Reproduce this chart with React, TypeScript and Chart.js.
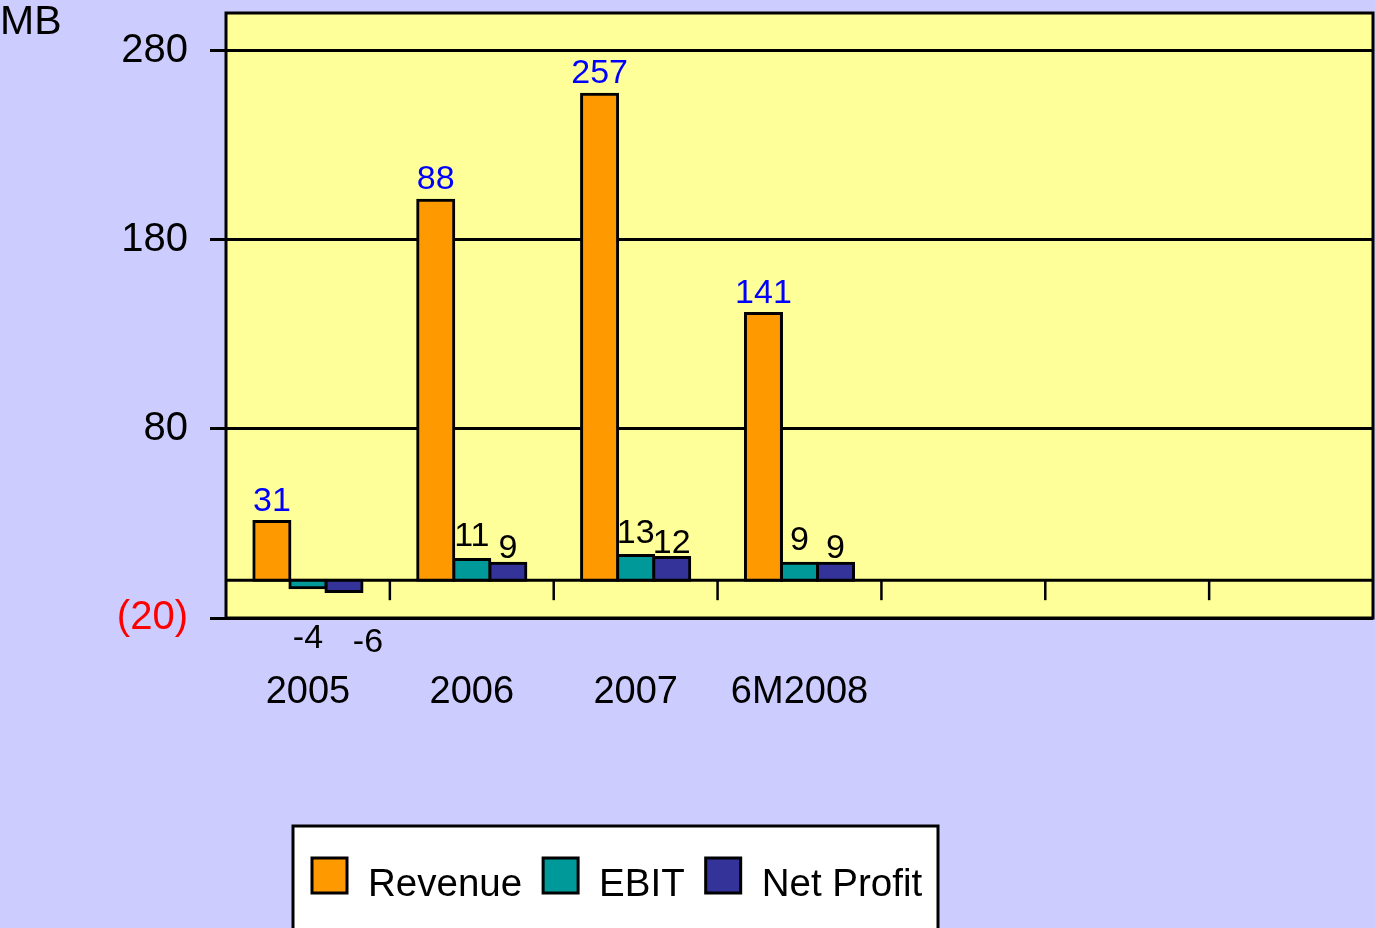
import React, { useEffect, useRef } from 'react';
import { Chart, registerables } from 'chart.js';

Chart.register(...registerables);

const CATEGORIES = ['2005', '2006', '2007', '6M2008', '', '', ''];
const REVENUE = [31, 201, 257, 141];
const EBIT = [-4, 11, 13, 9];
const NET_PROFIT = [-6, 9, 12, 9];
const REVENUE_LABELS = ['31', '88', '257', '141'];
const EBIT_LABELS = EBIT.map(String);
const NET_PROFIT_LABELS = NET_PROFIT.map(String);
const Y_TICKS = [-20, 80, 180, 280];
const Y_MIN = -20;
const Y_MAX = 300;
const UNIT = 'MB';

const FONT = '"Liberation Sans", Arial, Helvetica, sans-serif';
const BG = '#CCCCFF';
const PLOT_BG = '#FFFF99';
const COLORS = ['#FF9900', '#009999', '#333399'];
const LABEL_COLORS = ['#0000FF', '#000000', '#000000'];
const LABEL_OFFSETS = [11, 13, 5];
const NEG_LABEL_DX = [0, 0, 24];

const chartPlugin = {
  id: 'customDecor',
  beforeDraw(chart: any) {
    const { ctx, chartArea: a, width, height } = chart;
    ctx.save();
    ctx.fillStyle = BG;
    ctx.fillRect(0, 0, width, height);
    ctx.fillStyle = PLOT_BG;
    ctx.fillRect(a.left, a.top, a.right - a.left, a.bottom - a.top);
    ctx.restore();
  },
  beforeDatasetsDraw(chart: any) {
    const { ctx, chartArea: a } = chart;
    const ys = chart.scales.y;
    const xs = chart.scales.x;
    const y0 = ys.getPixelForValue(0);
    ctx.save();
    ctx.strokeStyle = '#000';
    ctx.lineWidth = 3;
    ctx.beginPath();
    ctx.moveTo(a.left, y0);
    ctx.lineTo(a.right, y0);
    ctx.stroke();
    ctx.lineWidth = 2.5;
    const n = CATEGORIES.length;
    for (let i = 1; i < n; i++) {
      const px = (xs.getPixelForValue(i - 1) + xs.getPixelForValue(i)) / 2;
      ctx.beginPath();
      ctx.moveTo(px, y0);
      ctx.lineTo(px, y0 + 20);
      ctx.stroke();
    }
    ctx.restore();
  },
  afterDraw(chart: any) {
    const { ctx, chartArea: a } = chart;
    ctx.save();
    // frame
    ctx.strokeStyle = '#000';
    ctx.lineWidth = 3;
    ctx.strokeRect(a.left, a.top, a.right - a.left, a.bottom - a.top);

    // unit
    ctx.fillStyle = '#000';
    ctx.font = `41px ${FONT}`;
    ctx.textAlign = 'left';
    ctx.textBaseline = 'alphabetic';
    ctx.fillText(UNIT, 0, 34);

    // data labels
    const labelSets = [REVENUE_LABELS, EBIT_LABELS, NET_PROFIT_LABELS];
    ctx.font = `34px ${FONT}`;
    ctx.textAlign = 'center';
    chart.data.datasets.forEach((ds: any, i: number) => {
      const meta = chart.getDatasetMeta(i);
      meta.data.forEach((bar: any, j: number) => {
        const v = ds.data[j];
        if (v === null || v === undefined) return;
        const text = labelSets[i][j];
        ctx.fillStyle = LABEL_COLORS[i];
        if (v >= 0) {
          ctx.fillText(text, bar.x, bar.y - LABEL_OFFSETS[i]);
        } else {
          ctx.fillText(text, bar.x + NEG_LABEL_DX[i], bar.y + 60);
        }
      });
    });

    // legend
    const lx = 293, ly = 826, lw = 645, lh = 106;
    ctx.fillStyle = '#FFFFFF';
    ctx.fillRect(lx, ly, lw, lh);
    ctx.strokeStyle = '#000';
    ctx.lineWidth = 3;
    ctx.strokeRect(lx, ly, lw, lh);
    ctx.font = `38.5px ${FONT}`;
    ctx.textAlign = 'left';
    let x = 312;
    chart.data.datasets.forEach((ds: any) => {
      ctx.fillStyle = ds.backgroundColor;
      ctx.fillRect(x, 858, 35, 35);
      ctx.lineWidth = 3;
      ctx.strokeStyle = '#000';
      ctx.strokeRect(x, 858, 35, 35);
      ctx.fillStyle = '#000';
      ctx.fillText(ds.label, x + 56, 896);
      x += 56 + ctx.measureText(ds.label).width + 21;
    });
    ctx.restore();
  },
};

export default function App() {
  const ref = useRef<HTMLCanvasElement | null>(null);
  useEffect(() => {
    if (!ref.current) return;
    const mk = (label: string, data: number[], i: number) => ({
      label,
      data,
      backgroundColor: COLORS[i],
      borderColor: '#000000',
      borderWidth: 3,
      borderSkipped: false,
      inflateAmount: 1.5,
      categoryPercentage: 0.66,
      barPercentage: 1.0,
    });
    const chart = new Chart(ref.current, {
      type: 'bar',
      data: {
        labels: CATEGORIES,
        datasets: [mk('Revenue', REVENUE, 0), mk('EBIT', EBIT, 1), mk('Net Profit', NET_PROFIT, 2)],
      },
      options: {
        animation: false,
        responsive: false,
        maintainAspectRatio: false,
        layout: { padding: { top: 13, right: 2, left: 0, bottom: 0 } },
        plugins: { legend: { display: false }, tooltip: { enabled: false } },
        scales: {
          x: {
            grid: { display: false },
            border: { display: false },
            ticks: {
              font: { family: FONT, size: 38 },
              color: '#000',
              padding: 44,
              maxRotation: 0,
              autoSkip: false,
            },
            afterFit: (s: any) => {
              s.height = 310;
              s.paddingLeft = 0;
              s.paddingRight = 0;
            },
          },
          y: {
            min: Y_MIN,
            max: Y_MAX,
            afterBuildTicks: (s: any) => {
              s.ticks = Y_TICKS.map((v) => ({ value: v }));
            },
            afterFit: (s: any) => {
              s.width = 226;
              s.paddingTop = 0;
              s.paddingBottom = 0;
            },
            grid: {
              color: '#000',
              lineWidth: 3,
              drawTicks: true,
              tickLength: 16,
              tickColor: '#000',
              tickWidth: 3,
            },
            border: { display: false },
            ticks: {
              font: { family: FONT, size: 40 },
              color: (c: any) => (c.tick && c.tick.value < 0 ? '#FF0000' : '#000000'),
              padding: 22,
              callback: (v: any) => (Number(v) < 0 ? `(${-Number(v)})` : String(v)),
            },
          },
        },
      },
      plugins: [chartPlugin],
    } as any);
    return () => chart.destroy();
  }, []);
  return (
    <div style={{ position: 'absolute', left: 0, top: 0, width: 1375, height: 928 }}>
      <canvas ref={ref} width={1375} height={928} style={{ display: 'block' }} />
    </div>
  );
}
